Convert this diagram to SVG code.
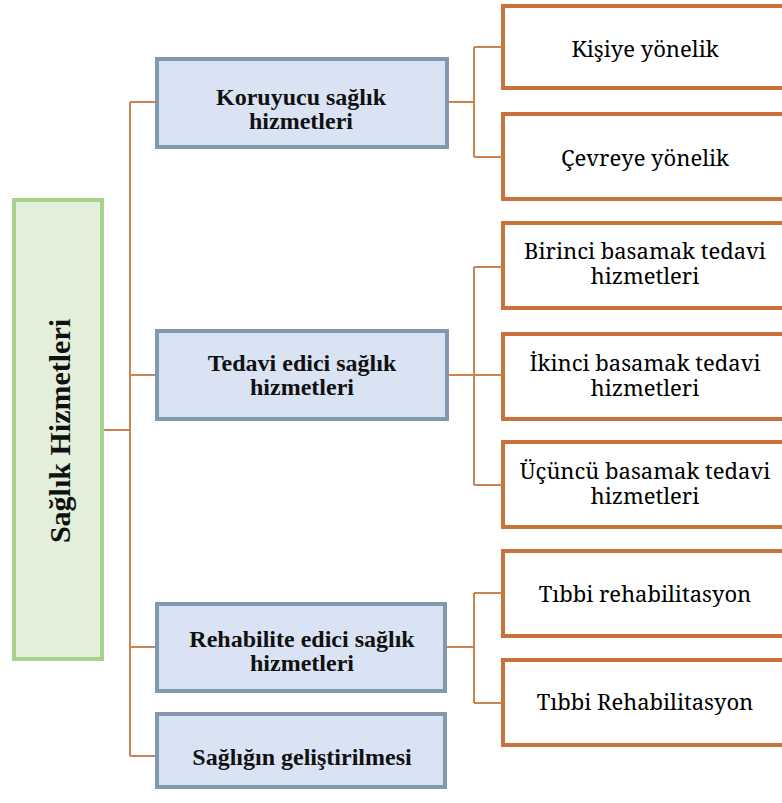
<svg xmlns="http://www.w3.org/2000/svg" width="782" height="803" viewBox="0 0 782 803">
  <defs>
    <rect id="leafbox" width="300" height="85" fill="#ffffff" stroke="#c9733a" stroke-width="4"/>
  </defs>
  <rect width="782" height="803" fill="#ffffff"/>

  <!-- second-level items: white boxes with orange outline -->
  <g id="leaf-boxes">
    <rect x="503" y="6" width="300" height="82" fill="#ffffff" stroke="#c9733a" stroke-width="4"/>
    <use href="#leafbox" x="503" y="114"/>
    <use href="#leafbox" x="503" y="223"/>
    <use href="#leafbox" x="503" y="334"/>
    <use href="#leafbox" x="503" y="442"/>
    <use href="#leafbox" x="503" y="551"/>
    <use href="#leafbox" x="503" y="660"/>
  </g>

  <!-- second-level labels (regular serif, centred at x=645) -->
  <g id="leaf-labels" font-family="'Noto Serif', 'DejaVu Serif', serif" font-size="22" fill="#000" text-anchor="middle">
    <text id="kisiye" x="645" y="57">Kişiye yönelik</text>
    <text id="cevreye" x="645" y="166">Çevreye yönelik</text>
    <text id="birinci" x="645" y="259">Birinci basamak tedavi</text>
    <text x="645" y="284">hizmetleri</text>
    <text id="ikinci" x="645" y="371">İkinci basamak tedavi</text>
    <text x="645" y="396">hizmetleri</text>
    <text id="ucuncu" x="645" y="479">Üçüncü basamak tedavi</text>
    <text x="645" y="504">hizmetleri</text>
    <text id="tibbi1" x="645" y="602">Tıbbi rehabilitasyon</text>
    <text id="tibbi2" x="645" y="710">Tıbbi Rehabilitasyon</text>
  </g>

  <!-- connectors -->
  <g id="connectors" fill="none" stroke="#c9844f" stroke-width="2">
    <path d="M103,430 H130 M130,102 V756 M130,102 H155 M130,375 H155 M130,647 H155 M130,756 H155"/>
    <path d="M448,102 H474 M474,47 V157 M474,47 H502 M474,157 H502"/>
    <path d="M448,375 H474 M474,267 V485 M474,267 H502 M474,375 H502 M474,485 H502"/>
    <path d="M446,647 H474 M474,593 V703 M474,593 H502 M474,703 H502"/>
  </g>

  <!-- root node -->
  <g id="root">
    <rect x="14" y="200" width="88" height="459" fill="#e2efda" stroke="#a9d18e" stroke-width="4"/>
    <text font-family="'Liberation Serif'" font-weight="bold" font-size="30" fill="#111" text-anchor="middle" transform="translate(70,431) rotate(-90)">Sağlık Hizmetleri</text>
  </g>

  <!-- first-level categories: blue boxes, bold labels -->
  <g fill="#dae3f3" stroke="#8497b0" stroke-width="4">
    <rect id="koruyucu-box" x="157" y="59" width="290" height="88"/>
    <rect id="tedavi-box" x="157" y="331" width="290" height="88"/>
    <rect id="rehabilite-box" x="157" y="604" width="288" height="87"/>
    <rect id="gelistirme-box" x="157" y="714" width="288" height="73"/>
  </g>
  <g font-family="'Liberation Serif'" font-weight="bold" font-size="24" fill="#111" text-anchor="middle">
    <g id="koruyucu">
      <text x="301" y="105">Koruyucu sağlık</text>
      <text x="301" y="129">hizmetleri</text>
    </g>
    <g id="tedavi">
      <text x="302" y="371">Tedavi edici sağlık</text>
      <text x="302" y="395">hizmetleri</text>
    </g>
    <g id="rehabilite">
      <text x="302" y="647">Rehabilite edici sağlık</text>
      <text x="302" y="671">hizmetleri</text>
    </g>
    <g id="gelistirme">
      <text x="302" y="765">Sağlığın geliştirilmesi</text>
    </g>
  </g>
</svg>
